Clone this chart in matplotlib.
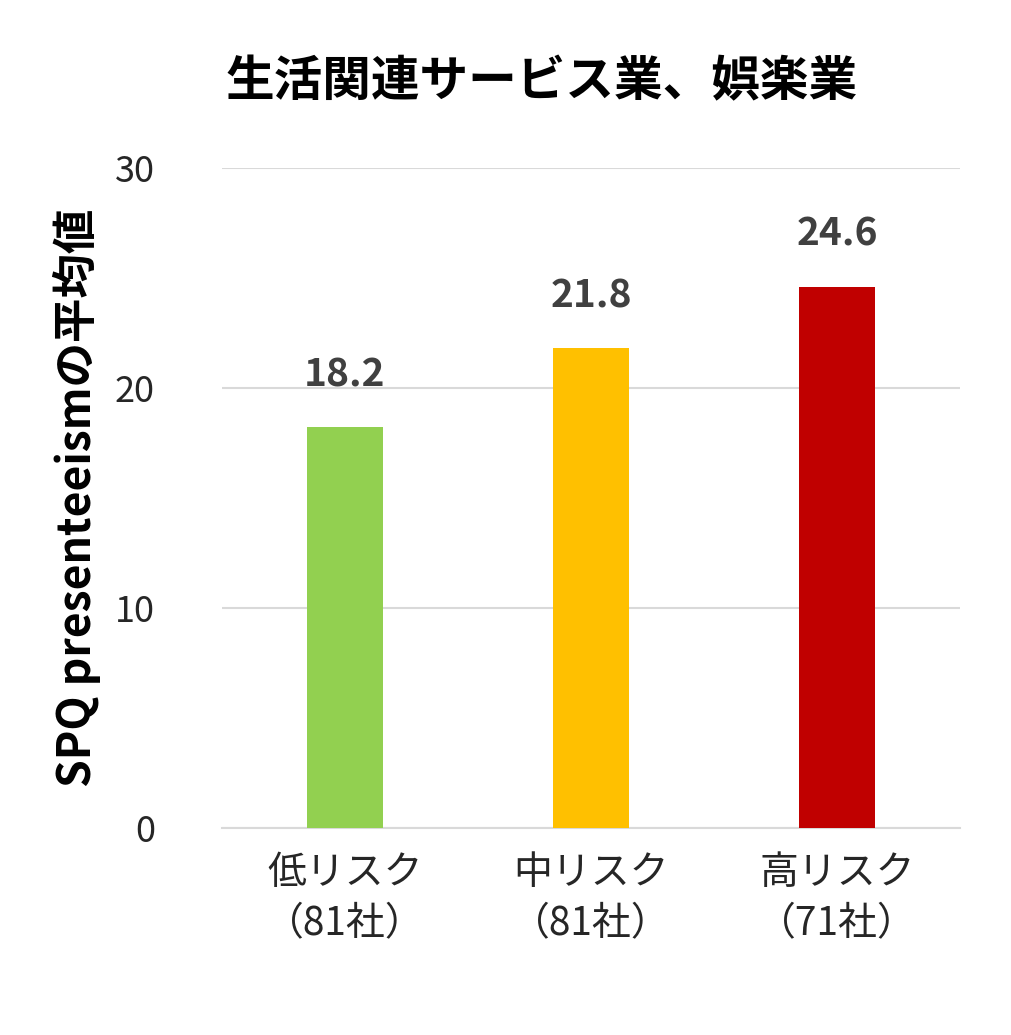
import matplotlib
matplotlib.use("Agg")
import matplotlib.pyplot as plt

plt.rcParams['font.family'] = ['Noto Sans CJK JP', 'DejaVu Sans']

categories = ["低リスク\n（81社）", "中リスク\n（81社）", "高リスク\n（71社）"]
values = [18.2, 21.8, 24.6]
colors = ["#92D050", "#FFC000", "#C00000"]

fig = plt.figure(figsize=(10.12, 10.35), dpi=100)
ax = fig.add_axes([0.219, 0.2, 0.73, 0.638])
x = list(range(len(values)))
ax.bar(x, values, width=0.31, color=colors, zorder=3)
for xi, v in zip(x, values):
    ax.text(xi, v + 1.5, f"{v:.1f}", ha='center', va='bottom', fontsize=28,
            fontweight='bold', color='#404040')
ax.set_xlim(-0.5, 2.5)
ax.set_ylim(0, 30)
ax.set_yticks([0, 10, 20, 30])
ax.grid(axis='y', color='#D9D9D9', linewidth=1.5, zorder=0)
for s in ['top', 'right', 'left']:
    ax.spines[s].set_visible(False)
ax.spines['bottom'].set_color('#D9D9D9')
ax.spines['bottom'].set_linewidth(1.5)
ax.set_xticks(x)
ax.set_xticklabels(categories, fontsize=28, color='#262626', linespacing=1.35)
ax.tick_params(axis='both', length=0, pad=18)
ax.tick_params(axis='y', labelsize=26, labelcolor='#262626', pad=48)
ax.set_ylabel("SPQ presenteeismの平均値", fontsize=32, fontweight='bold', labelpad=10)
fig.text(0.535, 0.921, "生活関連サービス業、娯楽業", ha='center', va='center',
         fontsize=35, fontweight='bold')
fig.savefig("out.png", dpi=100)
